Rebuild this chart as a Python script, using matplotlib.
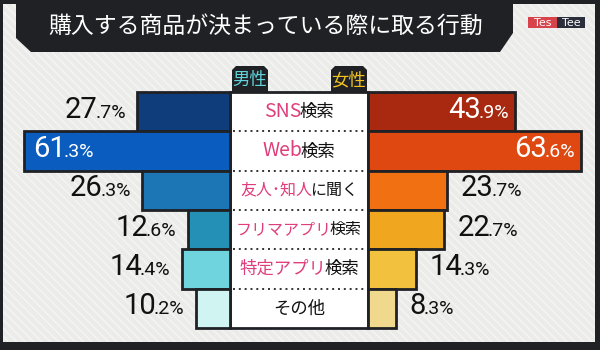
import matplotlib
matplotlib.use("Agg")
import matplotlib.pyplot as plt
from matplotlib.patches import Rectangle, Polygon
from matplotlib.offsetbox import TextArea, HPacker, AnnotationBbox

plt.rcParams["font.family"] = ["Noto Sans CJK JP", "DejaVu Sans"]

TITLE = "購入する商品が決まっている際に取る行動"
categories = ["SNS検索", "Web検索", "友人･知人に聞く", "フリマアプリ検索", "特定アプリ検索", "その他"]
highlights = ["SNS", "Web", "友人･知人", "フリマアプリ", "特定アプリ", ""]
male = [27.7, 61.3, 26.3, 12.6, 14.4, 10.2]
female = [43.9, 63.6, 23.7, 22.7, 14.3, 8.3]

MALE_COLORS = ["#0f3d7c", "#0b5cbf", "#1c76b6", "#2490b6", "#6fd4de", "#cff4f1"]
FEMALE_COLORS = ["#a8290f", "#df4810", "#f07012", "#f0a61f", "#f2c13e", "#f0d98d"]
DARK = "#1f2125"
PINK = "#e03d7c"
NUM_FONT = ["Roboto", "DejaVu Sans"]

W, H = 600, 350
ROW_TOP, ROW_BOT = 92, 328
LEFT_END, RIGHT_START, SPAN, XMAX = 230, 368, 218, 65


def px_axes(fig, x0, y0, x1, y1):
    ax = fig.add_axes([x0 / W, 1 - y1 / H, (x1 - x0) / W, (y1 - y0) / H])
    ax.patch.set_visible(False)
    ax.axis("off")
    return ax


def value_box(v, color):
    whole, frac = f"{v:.1f}".split(".")
    big = TextArea(whole, textprops=dict(fontsize=21, color=color, family=NUM_FONT))
    small = TextArea("." + frac + "%", textprops=dict(fontsize=14, color=color, family=NUM_FONT))
    return HPacker(children=[big, small], align="baseline", pad=0, sep=-1.5)


def put_box(ax, box, xy, offset, halign):
    ab = AnnotationBbox(box, xy, xybox=offset, xycoords="data", boxcoords="offset points",
                        box_alignment=(halign, 0.5), frameon=False, pad=0, annotation_clip=False)
    ax.add_artist(ab)


fig = plt.figure(figsize=(6, 3.5), dpi=100)
fig.patch.set_facecolor(DARK)

# background, banner, logo, tabs (pixel coords)
bg = fig.add_axes([0, 0, 1, 1])
bg.set_xlim(0, W)
bg.set_ylim(H, 0)
bg.axis("off")
bg.add_patch(Rectangle((3, 4), 592, 338, facecolor="#ebebe9", edgecolor="#f5f5f3",
                       hatch="\\\\\\\\", linewidth=0))
bg.add_patch(Polygon([(16, 0), (513, 0), (513, 33), (500, 52), (31, 52), (16, 38)],
                     closed=True, facecolor=DARK, edgecolor="none"))
bg.text(266, 26, TITLE, color="white", fontsize=16.5, ha="center", va="center")

bg.add_patch(Rectangle((528, 17), 29, 11, facecolor="#d8424a", edgecolor="none"))
bg.add_patch(Rectangle((557, 17), 28, 11, facecolor="#2b2e3b", edgecolor="none"))
bg.text(542.5, 22.5, "Tes", color="white", fontsize=8, ha="center", va="center", family="DejaVu Sans")
bg.text(571, 22.5, "Tee", color="white", fontsize=8, ha="center", va="center", family="DejaVu Sans")

for x0, label, col in [(232, "男性", "#62d3da"), (331, "女性", "#f2c21f")]:
    bg.add_patch(Polygon([(x0, 93), (x0, 70), (x0 + 4, 66), (x0 + 32, 66), (x0 + 36, 70), (x0 + 36, 93)],
                         closed=True, facecolor=DARK, edgecolor="none"))
    bg.text(x0 + 18, 80, label, color=col, fontsize=12.5, ha="center", va="center")

n = len(categories)
ypos = list(range(n))

# centre column
mid = px_axes(fig, LEFT_END, ROW_TOP, RIGHT_START, ROW_BOT)
mid.set_xlim(0, 1)
mid.set_ylim(n - 0.5, -0.5)
mid.add_patch(Rectangle((0, -0.5), 1, n, facecolor="white", edgecolor=DARK, linewidth=2, clip_on=False))
for i in range(1, n):
    mid.plot([0.02, 0.98], [i - 0.5, i - 0.5], color="#333333", linewidth=1.4,
             linestyle=(0, (1.0, 2.0)))
for i, (cat, hl) in enumerate(zip(categories, highlights)):
    rest = cat[len(hl):]
    size = 12.5 if len(cat) <= 7 else 11.5
    parts = []
    if hl:
        hl_size = 14 if hl.isascii() else size
        parts.append(TextArea(hl, textprops=dict(fontsize=hl_size, color=PINK)))
    parts.append(TextArea(rest, textprops=dict(fontsize=size, color="#111111")))
    box = HPacker(children=parts, align="baseline", pad=0, sep=-1.5)
    put_box(mid, box, (0.5, i), (0, 0), 0.5)

# male bars (left, growing leftwards)
axl = px_axes(fig, LEFT_END - SPAN, ROW_TOP, LEFT_END, ROW_BOT)
axl.set_xlim(XMAX, 0)
axl.set_ylim(n - 0.5, -0.5)
for b in axl.barh(ypos, male, height=1.0, color=MALE_COLORS, edgecolor=DARK, linewidth=2):
    b.set_clip_on(False)
for i, v in enumerate(male):
    if v >= 40:
        put_box(axl, value_box(v, "white"), (v, i), (6.5, 1.5), 0)
    else:
        put_box(axl, value_box(v, "#111111"), (v, i), (-8, 1.5), 1)

# female bars (right)
axr = px_axes(fig, RIGHT_START, ROW_TOP, RIGHT_START + SPAN, ROW_BOT)
axr.set_xlim(0, XMAX)
axr.set_ylim(n - 0.5, -0.5)
for b in axr.barh(ypos, female, height=1.0, color=FEMALE_COLORS, edgecolor=DARK, linewidth=2):
    b.set_clip_on(False)
for i, v in enumerate(female):
    if v >= 40:
        put_box(axr, value_box(v, "white"), (v, i), (-4, 1.5), 1)
    else:
        put_box(axr, value_box(v, "#111111"), (v, i), (9.5, 1.5), 0)

fig.savefig("out.png", dpi=100, facecolor=DARK)
